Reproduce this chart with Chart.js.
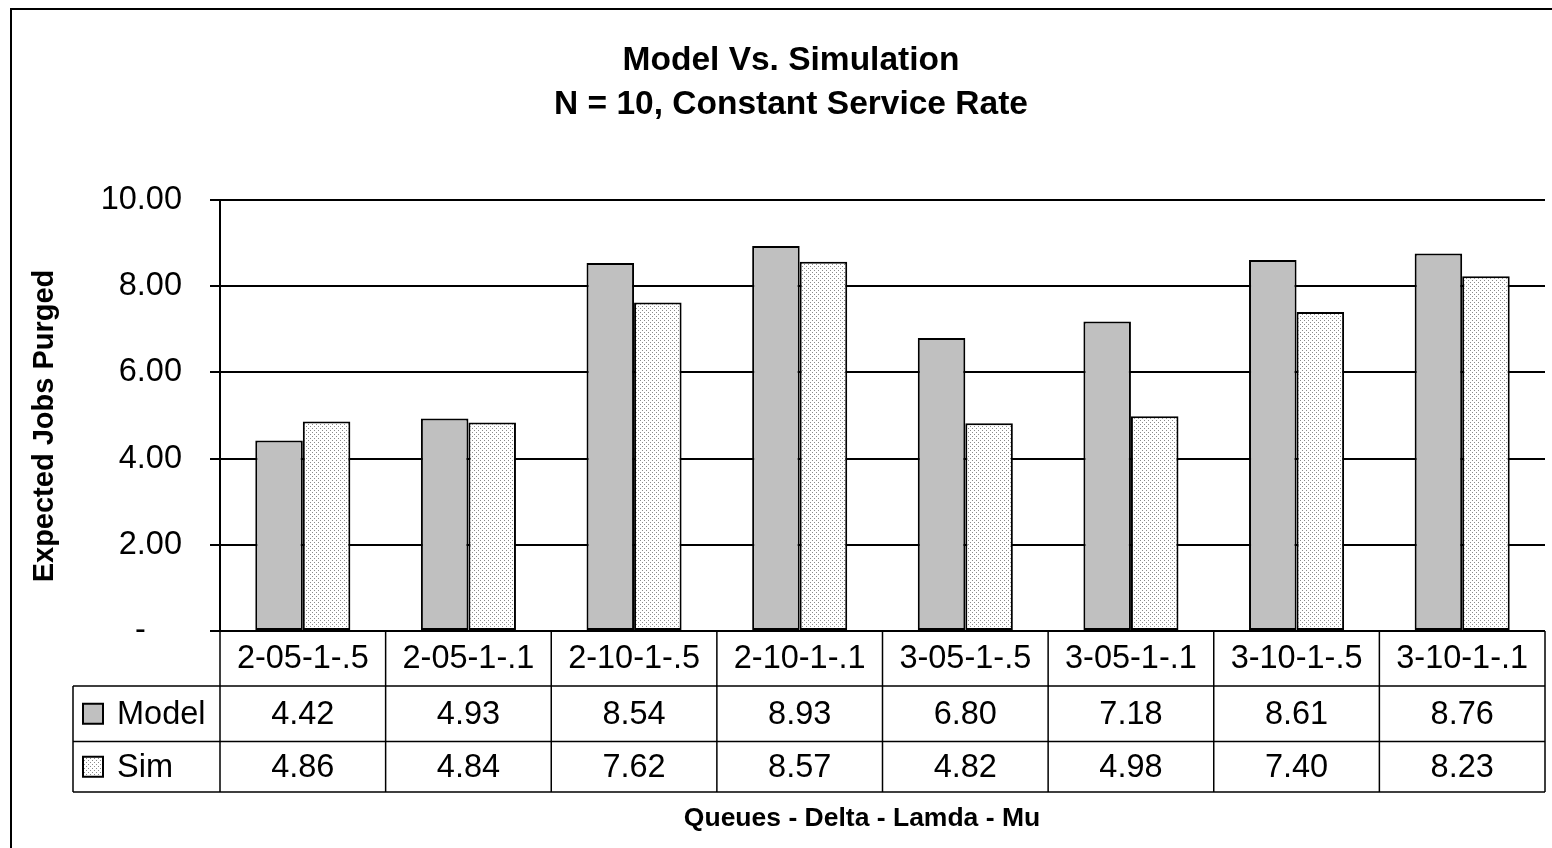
<!DOCTYPE html>
<html>
<head>
<meta charset="utf-8">
<script src="https://cdn.jsdelivr.net/npm/chart.js"></script>
<style>
  body { margin: 0; background: #fff; }
  #wrap { width: 1552px; height: 848px; }
</style>
</head>
<body>
<div id="wrap"><canvas id="myChartBar" width="1552" height="848"></canvas></div>
<script>
// dados
const categorias = ['2-05-1-.5', '2-05-1-.1', '2-10-1-.5', '2-10-1-.1', '3-05-1-.5', '3-05-1-.1', '3-10-1-.5', '3-10-1-.1'];
const model = [4.42, 4.93, 8.54, 8.93, 6.80, 7.18, 8.61, 8.76];
const sim = [4.86, 4.84, 7.62, 8.57, 4.82, 4.98, 7.40, 8.23];
const nomes = ['Model', 'Sim'];
const titulo = ['Model Vs. Simulation', 'N = 10, Constant Service Rate'];
const tituloX = 'Queues - Delta - Lamda - Mu';
const tituloY = 'Expected Jobs Purged';

const fonte = '"Liberation Sans", Arial, sans-serif';

// padrao pontilhado da serie Sim
function pontilhado() {
  const c = document.createElement('canvas');
  c.width = 4;
  c.height = 4;
  const g = c.getContext('2d');
  g.fillStyle = '#ffffff';
  g.fillRect(0, 0, 4, 4);
  g.fillStyle = '#8a8a8a';
  g.fillRect(0, 0, 1, 1);
  g.fillRect(2, 2, 1, 1);
  return g.createPattern(c, 'repeat');
}
const simFill = pontilhado();
const cores = ['#c0c0c0', simFill];

// titulo, eixos e tabela de dados
const tabela = {
  id: 'tabela',
  afterDraw(chart) {
    const g = chart.ctx;
    const area = chart.chartArea;
    const x = chart.scales.x;
    const catW = (area.right - area.left) / categorias.length;

    g.save();
    g.strokeStyle = '#000';
    g.fillStyle = '#000';

    // moldura (so esquerda e topo aparecem)
    g.lineWidth = 2;
    g.beginPath();
    g.moveTo(11, 848);
    g.lineTo(11, 9);
    g.lineTo(1552, 9);
    g.stroke();

    // titulo
    g.font = 'bold 33.5px ' + fonte;
    g.textAlign = 'center';
    g.textBaseline = 'middle';
    g.fillText(titulo[0], 791, 61);
    g.fillText(titulo[1], 791, 105);

    // titulo eixo x
    g.font = 'bold 26.5px ' + fonte;
    g.fillText(tituloX, 862, 819);

    // titulo eixo y
    g.save();
    g.translate(45, 426);
    g.rotate(-Math.PI / 2);
    g.font = 'bold 29px ' + fonte;
    g.fillText(tituloY, 0, 0);
    g.restore();

    // linhas da tabela
    const yCat = area.bottom;
    const yModel = 686;
    const ySim = 741.5;
    const yFim = 792;
    const xEsq = 73;

    g.lineWidth = 1.5;
    g.beginPath();
    for (let i = 0; i <= categorias.length; i++) {
      const xi = i < categorias.length ? x.getPixelForValue(i) - catW / 2 : x.getPixelForValue(i - 1) + catW / 2;
      g.moveTo(xi, yCat);
      g.lineTo(xi, yFim);
    }
    [yModel, ySim, yFim].forEach(y => {
      g.moveTo(xEsq, y);
      g.lineTo(area.right, y);
    });
    g.moveTo(xEsq, yModel);
    g.lineTo(xEsq, yFim);
    g.stroke();

    // textos da tabela
    g.font = '32.5px ' + fonte;
    g.textAlign = 'center';
    g.textBaseline = 'middle';
    categorias.forEach((c, i) => {
      const cx = x.getPixelForValue(i);
      g.fillText(c, cx, (yCat + yModel) / 2 + 1);
      g.fillText(model[i].toFixed(2), cx, (yModel + ySim) / 2 + 1);
      g.fillText(sim[i].toFixed(2), cx, (ySim + yFim) / 2 + 1);
    });

    // legenda dentro da tabela
    const linhas = [(yModel + ySim) / 2, (ySim + yFim) / 2];
    nomes.forEach((n, k) => {
      const cy = linhas[k];
      g.fillStyle = cores[k];
      g.fillRect(83, cy - 10, 20, 20);
      g.lineWidth = 2;
      g.strokeStyle = '#000';
      g.strokeRect(83, cy - 10, 20, 20);
      g.fillStyle = '#000';
      g.textAlign = 'left';
      g.fillText(n, 117, cy + 1);
    });

    g.restore();
  }
};

const ctx = document.getElementById('myChartBar');
new Chart(ctx, {
  type: 'bar',
  data: {
    labels: categorias,
    datasets: [{
      label: nomes[0],
      data: model,
      backgroundColor: cores[0],
      borderColor: '#000',
      borderWidth: 2,
      borderSkipped: false
    },
    {
      label: nomes[1],
      data: sim,
      backgroundColor: cores[1],
      borderColor: '#000',
      borderWidth: 2,
      borderSkipped: false
    }]
  },
  options: {
    responsive: false,
    animation: false,
    layout: {
      padding: { top: 200, bottom: 217, left: 0, right: 7 }
    },
    datasets: {
      bar: { categoryPercentage: 0.574, barPercentage: 1 }
    },
    plugins: {
      legend: { display: false },
      title: { display: false },
      tooltip: { enabled: false }
    },
    scales: {
      x: {
        display: false
      },
      y: {
        min: 0,
        max: 10,
        afterFit(scale) { scale.width = 220; },
        border: { color: '#000', width: 2 },
        grid: { color: '#000', lineWidth: 2, tickLength: 10 },
        ticks: {
          stepSize: 2,
          padding: 28,
          color: '#000',
          font: { family: fonte, size: 32.5 },
          callback: v => v === 0 ? '-    ' : v.toFixed(2)
        }
      }
    }
  },
  plugins: [tabela]
});
</script>
</body>
</html>
